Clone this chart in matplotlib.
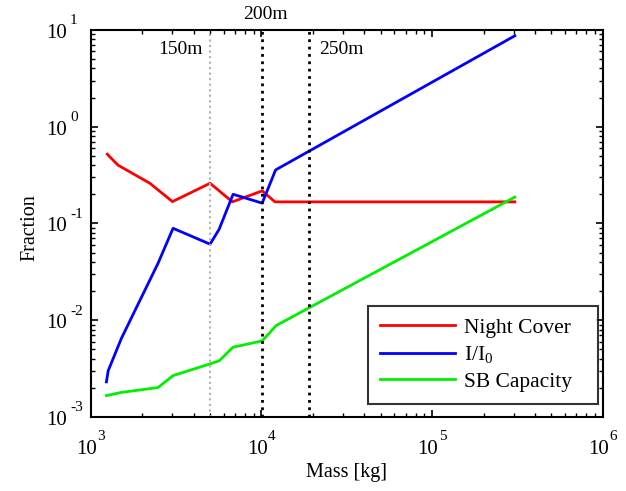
import numpy as np
import matplotlib
matplotlib.use("Agg")
import matplotlib.pyplot as plt

plt.rcParams['font.family'] = ['Liberation Serif', 'DejaVu Serif']
plt.rcParams['mathtext.fontset'] = 'custom'
plt.rcParams['mathtext.rm'] = 'Liberation Serif'
plt.rcParams['mathtext.it'] = 'Liberation Serif:italic'

# night cover fraction
m_night = [1250, 1290, 1445, 2220, 3010, 5000, 6760, 10100, 12000, 305000]
night = [0.52, 0.49, 0.40, 0.26, 0.168, 0.26, 0.167, 0.217, 0.167, 0.167]

# I/I0
m_int = [1235, 1265, 1513, 2478, 3035, 5000, 5650, 6820, 10100, 12100, 305000]
intensity = [0.0023, 0.0030, 0.0065, 0.0387, 0.089, 0.061, 0.087, 0.20, 0.162, 0.357, 8.7]

# SB capacity
m_sb = [1235, 1513, 2478, 3035, 5000, 5650, 6820, 10100, 12200, 305000]
sb = [0.00166, 0.00179, 0.00201, 0.00267, 0.00353, 0.00379, 0.00525, 0.0061, 0.0088, 0.187]

# diameter markers
m_diam = [5000, 10100, 19000]
diam_labels = ["150m", "200m", "250m"]

x_exp = [3, 4, 5, 6]
y_exp = [-3, -2, -1, 0, 1]

fig = plt.figure(figsize=(6.26, 4.91), dpi=100)
ax = fig.add_axes([0.145, 0.151, 0.818, 0.788])

ax.plot(m_night, night, color='#ff0000', lw=2, label='Night Cover')
ax.plot(m_int, intensity, color='#0000ff', lw=2, label='I/I$_0$')
ax.plot(m_sb, sb, color='#00f000', lw=2, label='SB Capacity')

ax.axvline(m_diam[0], color='#b0b0b0', lw=1.5, ls=':')
ax.axvline(m_diam[1], color='k', lw=2, ls=':')
ax.axvline(m_diam[2], color='k', lw=2, ls=':')

ax.text(m_diam[0] * 0.90, 6.3, diam_labels[0], ha='right', va='center', fontsize=14)
ax.text(m_diam[1] * 1.04, 14.3, diam_labels[1], ha='center', va='center', fontsize=14)
ax.text(m_diam[2] * 1.14, 6.3, diam_labels[2], ha='left', va='center', fontsize=14)

ax.set_xscale('log')
ax.set_yscale('log')
ax.set_xlim(1e3, 1e6)
ax.set_ylim(1e-3, 1e1)
ax.set_xticks([10.0**k for k in x_exp])
ax.set_yticks([10.0**k for k in y_exp])
ax.set_xticklabels([])
ax.set_yticklabels([])

# MATLAB-style 10^k tick labels
for k in x_exp:
    ax.annotate('10', xy=(10.0**k, 0), xycoords=('data', 'axes fraction'),
                xytext=(-3, -23.5), textcoords='offset points',
                ha='center', va='center', fontsize=15)
    ax.annotate(str(k), xy=(10.0**k, 0), xycoords=('data', 'axes fraction'),
                xytext=(7.5, -14.5), textcoords='offset points',
                ha='center', va='center', fontsize=11)
for k in y_exp:
    ax.annotate('10', xy=(0, 10.0**k), xycoords=('axes fraction', 'data'),
                xytext=(-17.3, -2.5), textcoords='offset points',
                ha='right', va='center', fontsize=15)
    ax.annotate(str(k), xy=(0, 10.0**k), xycoords=('axes fraction', 'data'),
                xytext=(-15, 6.5), textcoords='offset points',
                ha='left', va='center', fontsize=11)

ax.set_xlabel('Mass [kg]', fontsize=14.5, va='center')
ax.set_ylabel('Fraction', fontsize=14.5, va='center')
ax.xaxis.set_label_coords(0.5, -0.143)
ax.yaxis.set_label_coords(-0.119, 0.49)

ax.tick_params(which='both', direction='in', top=True, right=True)
ax.tick_params(which='major', length=5, width=1.2)
ax.tick_params(which='minor', length=3, width=1)
for s in ax.spines.values():
    s.set_linewidth(1.5)

leg = ax.legend(loc='lower left', bbox_to_anchor=(0.541, 0.034, 0.449, 0.256),
                mode='expand', fontsize=15.5, fancybox=False, edgecolor='k',
                handlelength=3.5, handletextpad=0.4, borderpad=0.55,
                labelspacing=0.3, borderaxespad=0)
leg.get_frame().set_linewidth(1.5)

fig.savefig('out.png', dpi=100)
